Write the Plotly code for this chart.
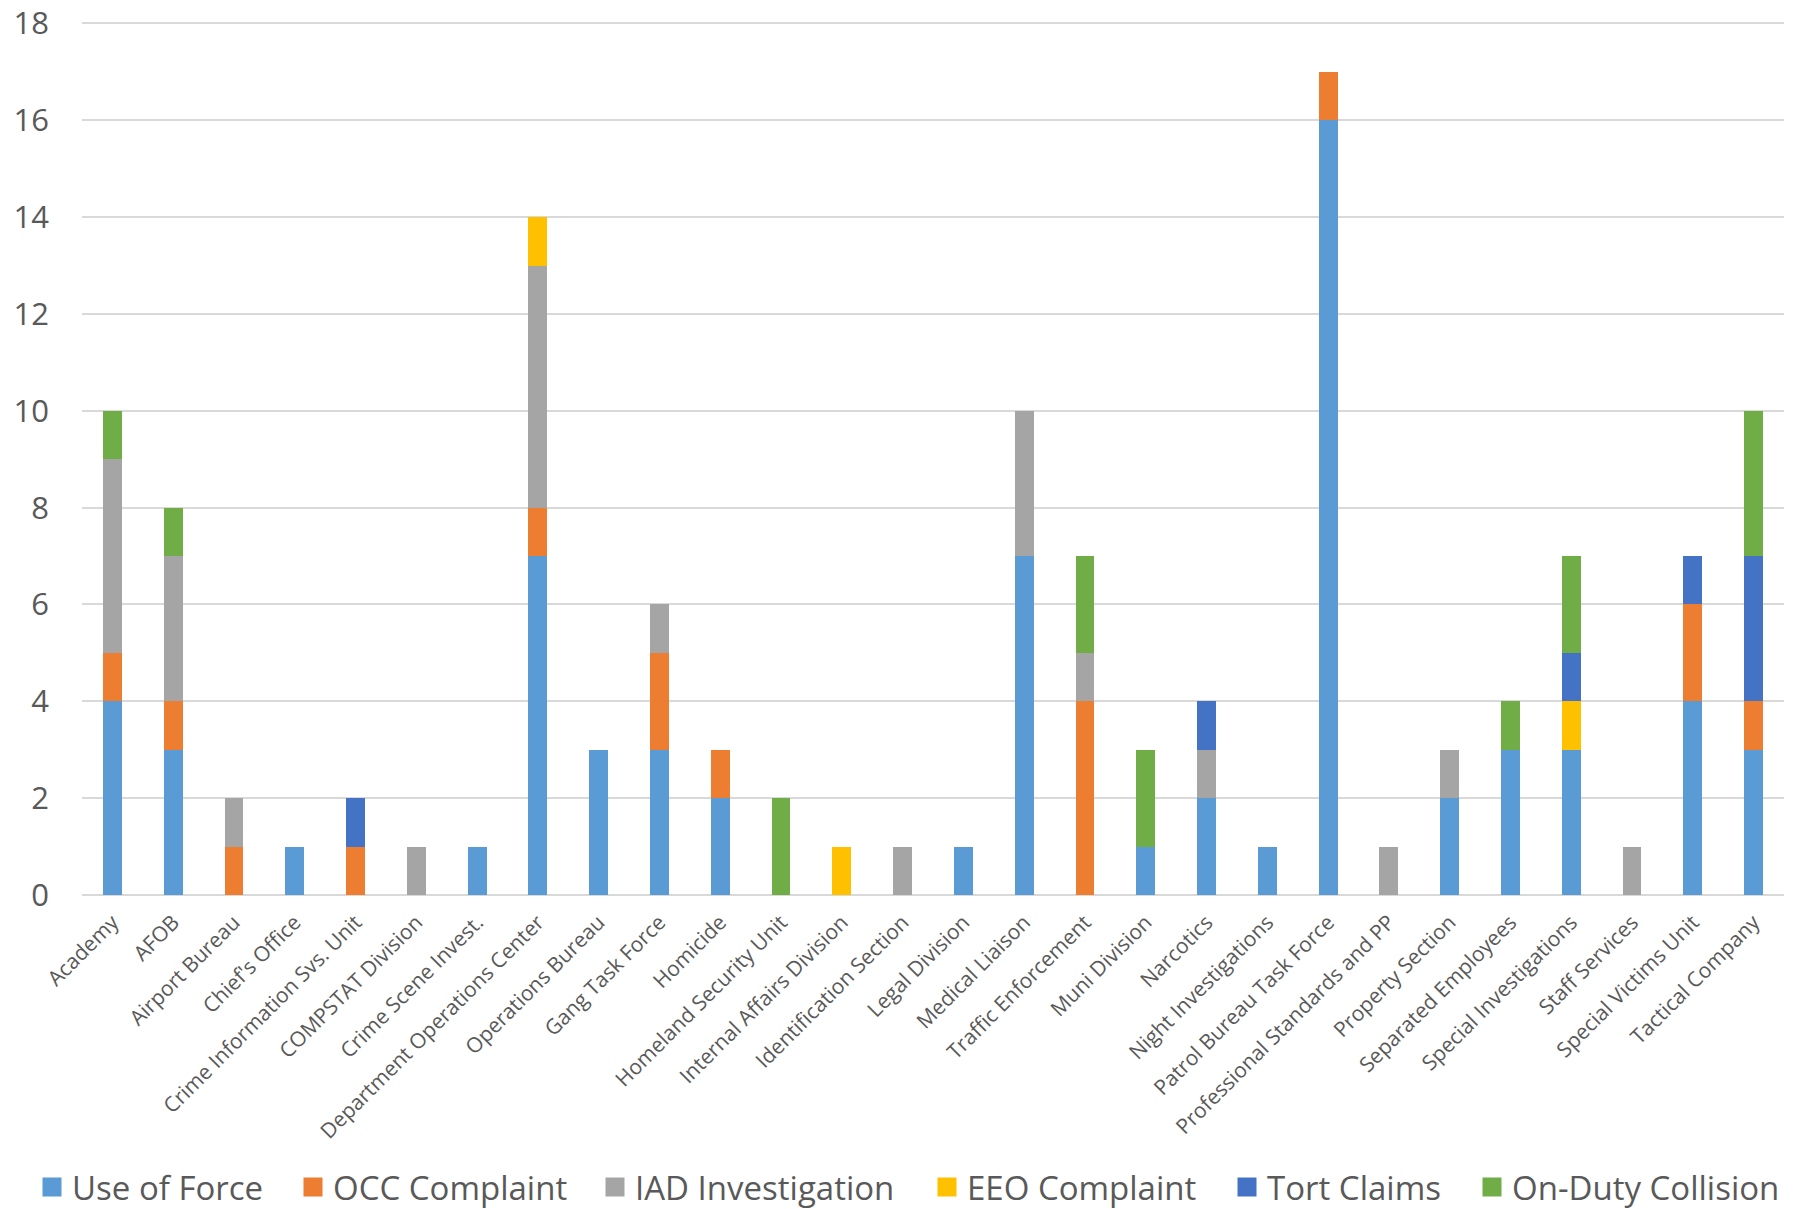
import plotly.graph_objects as go

categories = ["Academy", "AFOB", "Airport Bureau", "Chief's Office", "Crime Information Svs. Unit",
              "COMPSTAT Division", "Crime Scene Invest.", "Department Operations Center",
              "Operations Bureau", "Gang Task Force", "Homicide", "Homeland Security Unit",
              "Internal Affairs Division", "Identification Section", "Legal Division",
              "Medical Liaison", "Traffic Enforcement", "Muni Division", "Narcotics",
              "Night Investigations", "Patrol Bureau Task Force", "Professional Standards and PP",
              "Property Section", "Separated Employees", "Special Investigations",
              "Staff Services", "Special Victims Unit", "Tactical Company"]

use_of_force = [4, 3, 0, 1, 0, 0, 1, 7, 3, 3, 2, 0, 0, 0, 1, 7, 0, 1, 2, 1, 16, 0, 2, 3, 3, 0, 4, 3]
occ_complaint = [1, 1, 1, 0, 1, 0, 0, 1, 0, 2, 1, 0, 0, 0, 0, 0, 4, 0, 0, 0, 1, 0, 0, 0, 0, 0, 2, 1]
iad_investigation = [4, 3, 1, 0, 0, 1, 0, 5, 0, 1, 0, 0, 0, 1, 0, 3, 1, 0, 1, 0, 0, 1, 1, 0, 0, 1, 0, 0]
eeo_complaint = [0, 0, 0, 0, 0, 0, 0, 1, 0, 0, 0, 0, 1, 0, 0, 0, 0, 0, 0, 0, 0, 0, 0, 0, 1, 0, 0, 0]
tort_claims = [0, 0, 0, 0, 1, 0, 0, 0, 0, 0, 0, 0, 0, 0, 0, 0, 0, 0, 1, 0, 0, 0, 0, 0, 1, 0, 1, 3]
on_duty_collision = [1, 1, 0, 0, 0, 0, 0, 0, 0, 0, 0, 2, 0, 0, 0, 0, 2, 2, 0, 0, 0, 0, 0, 1, 2, 0, 0, 3]

series_names = ["Use of Force", "OCC Complaint", "IAD Investigation",
                "EEO Complaint", "Tort Claims", "On-Duty Collision"]
series_values = [use_of_force, occ_complaint, iad_investigation,
                 eeo_complaint, tort_claims, on_duty_collision]
series_colors = ["#5B9BD5", "#ED7D31", "#A5A5A5", "#FFC000", "#4472C4", "#70AD47"]

y_ticks = [0, 2, 4, 6, 8, 10, 12, 14, 16, 18]

# legend entry left positions (pixels in the 1796-wide page)
legend_x_px = [32, 293, 595, 927, 1227, 1472]

FONT = "Open Sans"
TXT = "#595959"
W, H = 1796, 1209

fig = go.Figure()
for name, vals, color in zip(series_names, series_values, series_colors):
    fig.add_trace(go.Bar(
        x=categories, y=[v if v else None for v in vals], name=name,
        marker=dict(color=color, line=dict(width=0)), showlegend=False,
    ))

legend_layouts = {}
for i, (name, color) in enumerate(zip(series_names, series_colors)):
    key = "legend" if i == 0 else f"legend{i + 1}"
    fig.add_trace(go.Scatter(
        x=[categories[0]], y=[None], mode="markers", name=name,
        marker=dict(symbol="square", size=16, color=color, line=dict(color=color, width=3)),
        legend=key, showlegend=True, hoverinfo="skip",
    ))
    legend_layouts[key] = dict(
        xref="container", yref="container",
        x=legend_x_px[i] / W, xanchor="left",
        y=(H - 1187) / H, yanchor="middle",
        font=dict(size=33, color=TXT, family=FONT),
        itemsizing="trace", bgcolor="rgba(0,0,0,0)", borderwidth=0,
    )

fig.update_layout(
    barmode="stack",
    bargap=0.69,
    width=W, height=H,
    margin=dict(l=82, r=12, t=22, b=H - 895, autoexpand=False),
    paper_bgcolor="white", plot_bgcolor="white",
    font=dict(family=FONT, color=TXT),
    showlegend=True,
    xaxis=dict(
        type="category", categoryorder="array", categoryarray=categories,
        range=[-0.5, len(categories) - 0.5],
        tickangle=-45, tickfont=dict(size=21, color=TXT, family=FONT),
        showgrid=False, showline=False, ticks="", automargin=False,
        ticklabelstandoff=10,
    ),
    yaxis=dict(
        range=[0, 18.03], tickvals=y_ticks, ticktext=[str(t) for t in y_ticks],
        tickfont=dict(size=31, color=TXT, family=FONT),
        gridcolor="#D9D9D9", gridwidth=1.5, zeroline=True, zerolinecolor="#D9D9D9",
        zerolinewidth=1.5, showline=False, ticks="", ticklabelstandoff=32,
        automargin=False,
    ),
    **legend_layouts,
)

fig.write_html("out.html", config={"displayModeBar": False},
               post_script="document.body.style.margin='0';")
